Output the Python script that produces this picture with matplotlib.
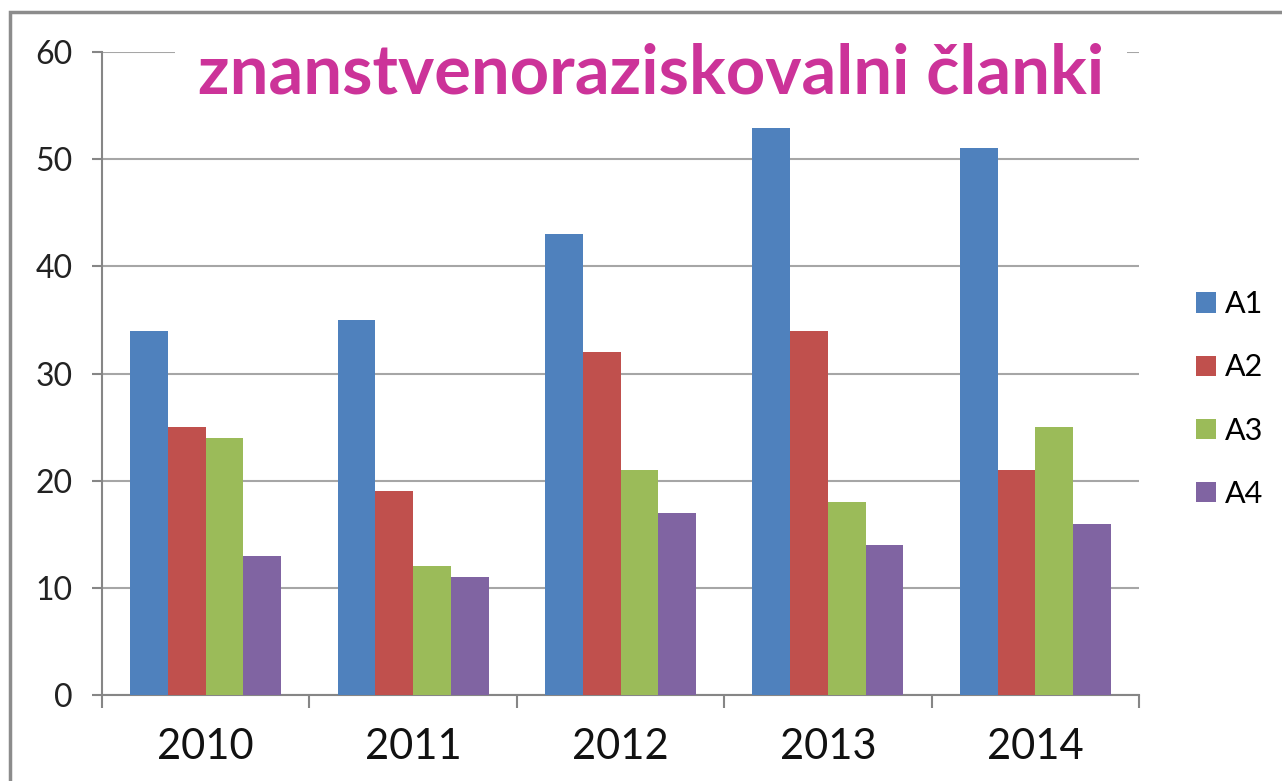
import matplotlib.pyplot as plt
from matplotlib.patches import Rectangle
import numpy as np

plt.rcParams['font.family'] = ['Lato', 'DejaVu Sans']

# data
years = ['2010', '2011', '2012', '2013', '2014']
series = ['A1', 'A2', 'A3', 'A4']
a1 = [34, 35, 43, 53, 51]
a2 = [25, 19, 32, 34, 21]
a3 = [24, 12, 21, 18, 25]
a4 = [13, 11, 17, 14, 16]
values = [a1, a2, a3, a4]
colors = ['#4F81BD', '#C0504D', '#9BBB59', '#8064A2']

fig = plt.figure(figsize=(12.82, 7.81), dpi=100)
ax = fig.add_axes([102 / 1282, 86 / 781, 1037 / 1282, 643 / 781])

x = np.arange(len(years))
w = 0.182
for i, (name, vals) in enumerate(zip(series, values)):
    ax.bar(x + (i - 1.5) * w, vals, width=w, color=colors[i], label=name,
           zorder=3, linewidth=0)

ax.set_xlim(-0.5, len(years) - 0.5)
ax.set_ylim(0, 60)
ax.set_yticks(range(0, 61, 10))
ax.yaxis.grid(True, color='#A6A6A6', linewidth=1.5, zorder=1)
ax.set_axisbelow(True)

# category boundaries as major ticks, labels on minor ticks
ax.set_xticks(np.arange(-0.5, len(years), 1.0))
ax.set_xticklabels([])
ax.set_xticks(x, minor=True)
ax.set_xticklabels(years, minor=True, fontsize=30, color='#111111')
ax.tick_params(axis='x', which='major', length=9.5, width=1.5, color='#868686')
ax.tick_params(axis='x', which='minor', length=0, pad=24)
ax.tick_params(axis='y', length=7, width=1.5, color='#868686', pad=14,
               labelsize=23, labelcolor='#222222')

for side in ['top', 'right']:
    ax.spines[side].set_visible(False)
for side in ['left', 'bottom']:
    ax.spines[side].set_color('#868686')
    ax.spines[side].set_linewidth(1.5)

leg = ax.legend(loc='center left', bbox_to_anchor=(1196 / 1282, 1 - 399 / 781),
                bbox_transform=fig.transFigure, frameon=False, fontsize=22,
                handlelength=0.65, handleheight=0.65, handletextpad=0.3,
                labelspacing=1.15, borderpad=0, borderaxespad=0)

fig.text(651 / 1282, 1 - 74 / 781, 'znanstvenoraziskovalni članki',
         ha='center', va='center', fontsize=49.5, fontweight='bold',
         color='#CC3399', zorder=4,
         bbox=dict(boxstyle='square,pad=0.33', facecolor='white', edgecolor='none'))

# outer chart frame (cropped on right and bottom)
fig.patches.append(Rectangle((10 / 1282, -0.2), 1.5, 1.2 - 12 / 781,
                             transform=fig.transFigure, fill=False,
                             edgecolor='#8C8C8C', linewidth=2.5, zorder=10))

fig.savefig('out.png', dpi=100)
